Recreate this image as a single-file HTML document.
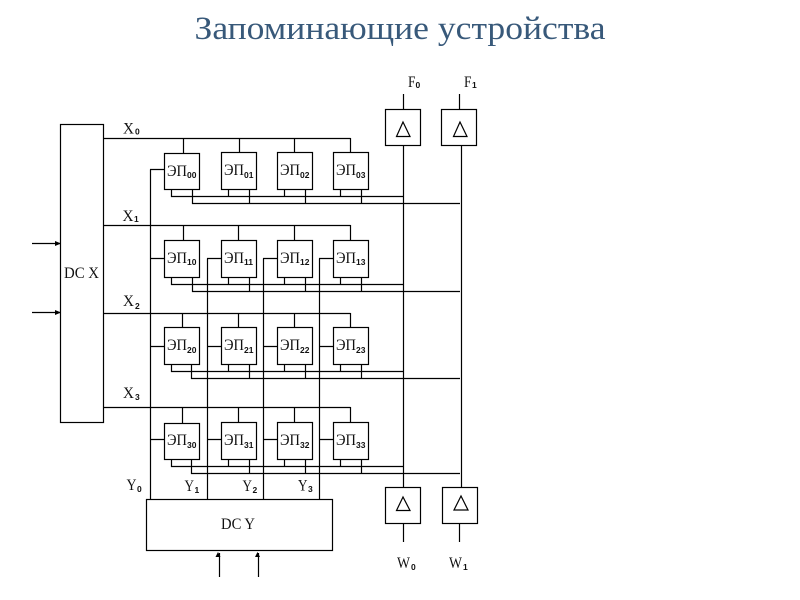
<!DOCTYPE html>
<html><head><meta charset="utf-8"><style>
html,body{margin:0;padding:0;background:#fff;width:800px;height:600px;overflow:hidden}
svg{display:block}
text{font-family:"Liberation Serif",serif;fill:#111}
.m,.s{font-family:"Liberation Sans",sans-serif;font-size:8.5px;font-weight:bold}
.l{font-size:16px}
.c{font-size:16px}
</style></head><body>
<svg width="800" height="600" viewBox="0 0 800 600" xmlns="http://www.w3.org/2000/svg">
<text x="400" y="39" text-anchor="middle" textLength="411" lengthAdjust="spacingAndGlyphs" style="font-size:33px;fill:#38597a">Запоминающие устройства</text>
<g fill="none" stroke="#000" stroke-width="1.2">
<rect x="60.5" y="124.5" width="43" height="298"/>
<rect x="146.5" y="499.5" width="186" height="51"/>
<rect x="385.5" y="109.5" width="35" height="36"/>
<rect x="441.5" y="109.5" width="35" height="36"/>
<rect x="385.5" y="487.5" width="35" height="36"/>
<rect x="442.5" y="487.5" width="35" height="36"/>
<path d="M403 122L396.500 136.500H410Z"/>
<path d="M460 122L453.500 136.500H467Z"/>
<path d="M403 497L396.500 510.500H410Z"/>
<path d="M461 496L454 510H468Z"/>
<path d="M104 138.500H350.500M104 225.500H350.500M104 313.500H350.500M104 407.500H350.500"/>
<path d="M183.500 138V153M239.500 138V152M294.500 138V152M350.500 138V152"/>
<path d="M183.500 225V240M238.500 225V240M294.500 225V240M350.500 225V240"/>
<path d="M182.500 313V327M238.500 313V327M294.500 313V327M350.500 313V327"/>
<path d="M182.500 407V423M238.500 407V422M294.500 407V422M350.500 407V422"/>
<rect x="164.500" y="153.500" width="35" height="36"/><rect x="221.500" y="152.500" width="35" height="37"/><rect x="277.500" y="152.500" width="35" height="37"/><rect x="333.500" y="152.500" width="35" height="37"/>
<rect x="164.500" y="240.500" width="35" height="37"/><rect x="221.500" y="240.500" width="35" height="37"/><rect x="277.500" y="240.500" width="35" height="37"/><rect x="333.500" y="240.500" width="35" height="37"/>
<rect x="164.500" y="327.500" width="35" height="37"/><rect x="221.500" y="327.500" width="35" height="37"/><rect x="277.500" y="327.500" width="35" height="37"/><rect x="333.500" y="327.500" width="35" height="37"/>
<rect x="164.500" y="423.500" width="35" height="36"/><rect x="221.500" y="422.500" width="35" height="37"/><rect x="277.500" y="422.500" width="35" height="37"/><rect x="333.500" y="422.500" width="35" height="37"/>
<path d="M150.500 169.500V499M207.500 258.500V499M263.500 258.500V499M319.500 258.500V499"/>
<path d="M150 169.500H164M150 258.500H164M207 258.500H221M263 258.500H277M319 258.500H333"/>
<path d="M150 346.500H164M207 346.500H221M263 346.500H277M319 346.500H333"/>
<path d="M150 439.500H164M207 439.500H221M263 439.500H277M319 439.500H333"/>
<path d="M171.500 189V196.500H403M192.500 189V203.500H460M228.500 189V196M249.500 189V203M284.500 189V196M305.500 189V203M340.500 189V196M361.500 189V203"/>
<path d="M171.500 277V284.500H403M192.500 277V291.500H460M228.500 277V284M249.500 277V291M284.500 277V284M305.500 277V291M340.500 277V284M361.500 277V291"/>
<path d="M171.500 364V371.500H403M191.500 364V378.500H460M228.500 364V371M249.500 364V378M284.500 364V371M305.500 364V378M340.500 364V371M361.500 364V378"/>
<path d="M171.500 459V466.500H403M191.500 459V473.500H460M228.500 459V466M249.500 459V473M284.500 459V466M305.500 459V473M340.500 459V466M361.500 459V473"/>
<path d="M403.500 94V109M459.500 94V109M403.500 145V487M461.500 145V487M403.500 523V542M459.500 523V542"/>
<path d="M32 243.500H60M32 312.500H60M219.500 577V553M258.500 577V553"/>
</g>
<g fill="#000">
<path d="M61 243.500L55 241V246Z"/><path d="M61 312.500L55 310V315Z"/>
<path d="M218 552L215.500 557H220.500Z"/><path d="M257.500 552L255 557H260Z"/>
</g>
<text x="64" y="278" class="c" textLength="35" lengthAdjust="spacingAndGlyphs">DC X</text>
<text x="221" y="529" class="c" textLength="34" lengthAdjust="spacingAndGlyphs">DC Y</text>
<text x="123" y="133.500" class="l" textLength="11" lengthAdjust="spacingAndGlyphs">X</text><text x="135" y="134.500" class="s">0</text>
<text x="122.500" y="221" class="l" textLength="11" lengthAdjust="spacingAndGlyphs">X</text><text x="134" y="222" class="s">1</text>
<text x="123" y="306" class="l" textLength="11" lengthAdjust="spacingAndGlyphs">X</text><text x="135" y="309" class="s">2</text>
<text x="123" y="398" class="l" textLength="11" lengthAdjust="spacingAndGlyphs">X</text><text x="135" y="400" class="s">3</text>
<text x="126.500" y="490" class="l" textLength="10" lengthAdjust="spacingAndGlyphs">Y</text><text x="137" y="492" class="s">0</text>
<text x="184.500" y="491" class="l" textLength="9.500" lengthAdjust="spacingAndGlyphs">Y</text><text x="194.500" y="493" class="s">1</text>
<text x="242.500" y="491" class="l" textLength="9.500" lengthAdjust="spacingAndGlyphs">Y</text><text x="252.500" y="493" class="s">2</text>
<text x="298" y="490.500" class="l" textLength="9.500" lengthAdjust="spacingAndGlyphs">Y</text><text x="308" y="492" class="s">3</text>
<text x="408" y="87" class="l" textLength="7.500" lengthAdjust="spacingAndGlyphs">F</text><text x="415.500" y="88" class="s">0</text>
<text x="464" y="87" class="l" textLength="7.500" lengthAdjust="spacingAndGlyphs">F</text><text x="472" y="88" class="s">1</text>
<text x="397" y="568" class="l" textLength="13" lengthAdjust="spacingAndGlyphs">W</text><text x="411" y="570" class="s">0</text>
<text x="449" y="568" class="l" textLength="13" lengthAdjust="spacingAndGlyphs">W</text><text x="463" y="570" class="s">1</text>
<g lengthAdjust="spacingAndGlyphs">
<text x="167" y="176" class="c" textLength="20" lengthAdjust="spacingAndGlyphs">ЭП</text><text x="187" y="178" class="m">00</text>
<text x="224" y="175" class="c" textLength="20" lengthAdjust="spacingAndGlyphs">ЭП</text><text x="244" y="178" class="m">01</text>
<text x="280" y="175" class="c" textLength="20" lengthAdjust="spacingAndGlyphs">ЭП</text><text x="300" y="178" class="m">02</text>
<text x="336" y="175" class="c" textLength="20" lengthAdjust="spacingAndGlyphs">ЭП</text><text x="356" y="178" class="m">03</text>
<text x="167" y="263" class="c" textLength="20" lengthAdjust="spacingAndGlyphs">ЭП</text><text x="187" y="265" class="m">10</text>
<text x="224" y="263" class="c" textLength="20" lengthAdjust="spacingAndGlyphs">ЭП</text><text x="244" y="265" class="m">11</text>
<text x="280" y="263" class="c" textLength="20" lengthAdjust="spacingAndGlyphs">ЭП</text><text x="300" y="265" class="m">12</text>
<text x="336" y="263" class="c" textLength="20" lengthAdjust="spacingAndGlyphs">ЭП</text><text x="356" y="265" class="m">13</text>
<text x="167" y="350" class="c" textLength="20" lengthAdjust="spacingAndGlyphs">ЭП</text><text x="187" y="353" class="m">20</text>
<text x="224" y="350" class="c" textLength="20" lengthAdjust="spacingAndGlyphs">ЭП</text><text x="244" y="353" class="m">21</text>
<text x="280" y="350" class="c" textLength="20" lengthAdjust="spacingAndGlyphs">ЭП</text><text x="300" y="353" class="m">22</text>
<text x="336" y="350" class="c" textLength="20" lengthAdjust="spacingAndGlyphs">ЭП</text><text x="356" y="353" class="m">23</text>
<text x="167" y="445" class="c" textLength="20" lengthAdjust="spacingAndGlyphs">ЭП</text><text x="187" y="448" class="m">30</text>
<text x="224" y="445" class="c" textLength="20" lengthAdjust="spacingAndGlyphs">ЭП</text><text x="244" y="448" class="m">31</text>
<text x="280" y="445" class="c" textLength="20" lengthAdjust="spacingAndGlyphs">ЭП</text><text x="300" y="448" class="m">32</text>
<text x="336" y="445" class="c" textLength="20" lengthAdjust="spacingAndGlyphs">ЭП</text><text x="356" y="448" class="m">33</text>
</g>
</svg>
</body></html>
